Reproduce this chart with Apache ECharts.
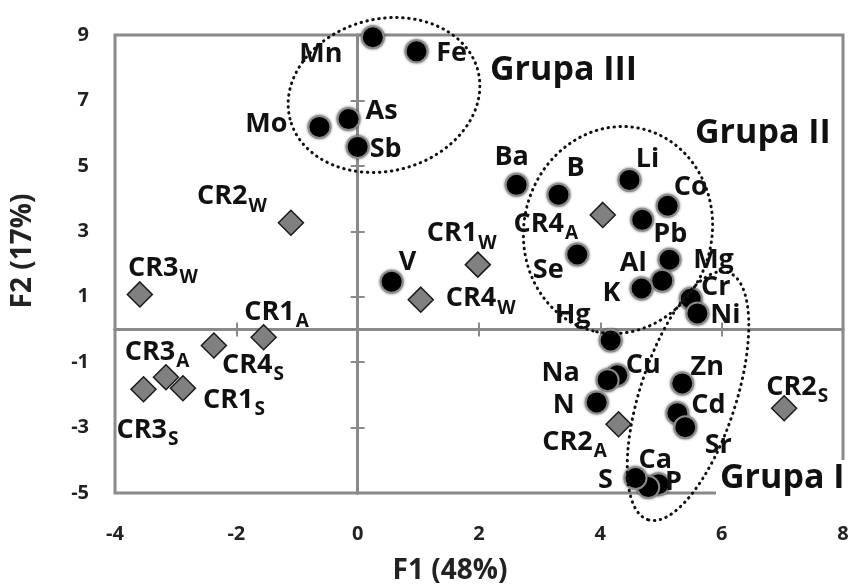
<!DOCTYPE html>
<html>
<head>
<meta charset="utf-8">
<script src="https://cdn.jsdelivr.net/npm/echarts@6/dist/echarts.min.js"></script>
<style>
  html, body { margin: 0; padding: 0; background: #fff; }
  #chart { width: 849px; height: 588px; }
</style>
</head>
<body>
<div id="chart"></div>
<script>
// Element loadings on the first two factors
const elementNames = ['Mn', 'Fe', 'Mo', 'As', 'Sb', 'Ba', 'B', 'Li', 'Co', 'Pb', 'Se', 'Mg', 'Al', 'K', 'Cr', 'Ni', 'Hg', 'V', 'Cu', 'Na', 'N', 'Zn', 'Cd', 'Sr', 'P', 'Ca', 'S'];
const elementF1 = [0.25, 0.97, -0.63, -0.15, 0.0, 2.62, 3.31, 4.48, 5.11, 4.69, 3.62, 5.14, 5.02, 4.68, 5.49, 5.6, 4.17, 0.56, 4.28, 4.12, 3.94, 5.35, 5.27, 5.4, 4.96, 4.79, 4.58];
const elementF2 = [8.93, 8.5, 6.19, 6.43, 5.58, 4.42, 4.12, 4.57, 3.78, 3.35, 2.29, 2.13, 1.49, 1.25, 0.94, 0.49, -0.34, 1.46, -1.4, -1.55, -2.23, -1.65, -2.56, -2.99, -4.73, -4.82, -4.54];

// Sample scores (site + subscript season code)
const sampleBase = ['CR2', 'CR3', 'CR1', 'CR4', 'CR1', 'CR4', 'CR3', 'CR2', 'CR4', 'CR3', 'CR1', 'CR2'];
const sampleSub = ['W', 'W', 'W', 'W', 'A', 'A', 'A', 'A', 'S', 'S', 'S', 'S'];
const sampleF1 = [-1.1, -3.59, 1.98, 1.04, -1.55, 4.04, -3.16, 4.3, -2.37, -3.53, -2.88, 7.03];
const sampleF2 = [3.26, 1.07, 1.98, 0.91, -0.24, 3.5, -1.46, -2.9, -0.49, -1.83, -1.8, -2.41];

// Axis settings
const xMin = -4, xMax = 8, xStep = 2;
const yMin = -5, yMax = 9, yStep = 2;
const xTitle = 'F1 (48%)';
const yTitle = 'F2 (17%)';
const groupTitles = ['Grupa III', 'Grupa II', 'Grupa I'];

// Label placement (label centre relative to marker centre, px)
const elementLabelShift = {
  Mn: [-52, 17], Fe: [35, 2], Mo: [-53, -3], As: [33, -8], Sb: [28, 2],
  Ba: [-5, -28], B: [17, -26], Li: [18, -21], Co: [23, -18], Pb: [28, 14],
  Se: [-29, 16], Mg: [44, 1], Al: [-29, -17], K: [-30, 5], Cr: [25, -11],
  Ni: [28, 2], Hg: [-38, -25], V: [16, -19], Cu: [26, -10], Na: [-47, -7],
  N: [-33, 3], Zn: [25, -16], Cd: [31, -8], Sr: [33, 18], P: [15, -2],
  Ca: [7, -27], S: [-30, 2]
};
// for two-part labels the shift refers to the main text line
const sampleLabelShift = {
  CR2W: [-59, -26], CR3W: [23, -26], CR1W: [-16, -31], CR4W: [60, -1],
  CR1A: [13, -25], CR4A: [-57, 9], CR3A: [-9, -25], CR2A: [-44, 18],
  CR4S: [39, 20], CR3S: [4, 41], CR1S: [51, 12], CR2S: [13, -21]
};

const FONT = '"Open Sans", "Noto Sans", sans-serif';
const GRAY = '#8a8a8a';
const INK = '#111';

// rich-text line metrics for main text + lowered subscript
const MAIN_LH = 27, SUB_LH = 46;
const subDrop = (SUB_LH - MAIN_LH) / 2;

const elementData = elementNames.map((n, i) => ({
  name: n,
  value: [elementF1[i], elementF2[i]],
  label: { offset: elementLabelShift[n] || [0, 0] }
}));
const sampleData = sampleBase.map((b, i) => {
  const key = b + sampleSub[i];
  const s = sampleLabelShift[key] || [0, 0];
  return {
    name: key,
    value: [sampleF1[i], sampleF2[i]],
    base: b,
    sub: sampleSub[i],
    label: { offset: [s[0], s[1] + subDrop] }
  };
});

function valueAxis(min, max, step, extra) {
  return Object.assign({
    type: 'value', min: min, max: max, interval: step,
    splitLine: { show: false }
  }, extra);
}

const zeroLine = { show: true, onZero: true, onZeroAxisIndex: 0, lineStyle: { color: GRAY, width: 3 } };
const tickStyle = { color: GRAY, width: 2 };
const tickFont = { fontSize: 20, fontWeight: 'bold', color: '#222', fontFamily: FONT };
const titleFont = { fontSize: 28, fontWeight: 'bold', color: '#222', fontFamily: FONT };

const chart = echarts.init(document.getElementById('chart'));
chart.setOption({
  animation: false,
  grid: {
    left: 115, right: 6, top: 35, bottom: 95,
    show: true, borderColor: GRAY, borderWidth: 3,
    outerBoundsMode: 'none'
  },
  xAxis: [
    valueAxis(xMin, xMax, xStep, {
      position: 'bottom',
      axisLine: { show: false, onZero: false },
      axisTick: { show: false },
      axisLabel: Object.assign({ margin: 31 }, tickFont),
      name: xTitle, nameLocation: 'middle', nameGap: 64,
      nameTextStyle: Object.assign({ padding: [0, 58, 0, 0] }, titleFont)
    }),
    valueAxis(xMin, xMax, xStep, {
      position: 'bottom', axisLine: zeroLine,
      axisTick: { show: true, inside: false, length: 7, lineStyle: tickStyle },
      axisLabel: { show: false }
    }),
    valueAxis(xMin, xMax, xStep, {
      position: 'bottom', axisLine: zeroLine,
      axisTick: { show: true, inside: true, length: 7, lineStyle: tickStyle },
      axisLabel: { show: false }
    })
  ],
  yAxis: [
    valueAxis(yMin, yMax, yStep, {
      position: 'left',
      axisLine: { show: false, onZero: false },
      axisTick: { show: false },
      axisLabel: Object.assign({ margin: 26 }, tickFont),
      name: yTitle, nameLocation: 'middle', nameGap: 78, nameRotate: 90,
      nameTextStyle: Object.assign({ padding: [0, 0, 0, 26] }, titleFont)
    }),
    valueAxis(yMin, yMax, yStep, {
      position: 'left', axisLine: zeroLine,
      axisTick: { show: true, inside: false, length: 7, lineStyle: tickStyle },
      axisLabel: { show: false }
    }),
    valueAxis(yMin, yMax, yStep, {
      position: 'left', axisLine: zeroLine,
      axisTick: { show: true, inside: true, length: 7, lineStyle: tickStyle },
      axisLabel: { show: false }
    })
  ],
  series: [
    {
      type: 'scatter', name: 'samples', xAxisIndex: 0, yAxisIndex: 0,
      symbol: 'diamond', symbolSize: 25,
      itemStyle: { color: '#808080', borderColor: '#1a1a1a', borderWidth: 1.5, opacity: 1 },
      label: {
        show: true, position: 'inside', color: INK,
        formatter: p => '{m|' + p.data.base + '}{s|' + p.data.sub + '}',
        rich: {
          m: { fontSize: 27, lineHeight: MAIN_LH, fontWeight: 'bold', fontFamily: FONT, color: INK, verticalAlign: 'top' },
          s: { fontSize: 19, lineHeight: SUB_LH, fontWeight: 'bold', fontFamily: FONT, color: INK, verticalAlign: 'middle', padding: [0, 0, 0, 1] }
        }
      },
      emphasis: { disabled: true },
      silent: true,
      z: 3,
      data: sampleData
    },
    {
      type: 'scatter', name: 'elements', xAxisIndex: 0, yAxisIndex: 0,
      symbol: 'circle', symbolSize: 22,
      itemStyle: {
        color: '#000', borderColor: '#8c8c8c', borderWidth: 2, opacity: 1,
        shadowBlur: 3, shadowColor: 'rgba(0,0,0,0.45)'
      },
      label: {
        show: true, position: 'inside', color: INK,
        fontSize: 27, fontWeight: 'bold', fontFamily: FONT,
        formatter: p => p.name
      },
      emphasis: { disabled: true },
      silent: true,
      z: 4,
      data: elementData
    }
  ],
  graphic: [
    // dotted group outlines
    {
      type: 'ellipse', x: 384, y: 95, rotation: 0.25, z: 100, silent: true,
      shape: { cx: 0, cy: 0, rx: 97, ry: 76 },
      style: { fill: 'none', stroke: INK, lineWidth: 3, lineDash: [0.5, 5.5], lineCap: 'round' }
    },
    {
      type: 'ellipse', x: 618, y: 230, rotation: 1.33, z: 100, silent: true,
      shape: { cx: 0, cy: 0, rx: 104, ry: 94 },
      style: { fill: 'none', stroke: INK, lineWidth: 3, lineDash: [0.5, 5.5], lineCap: 'round' }
    },
    {
      type: 'ellipse', x: 688, y: 396, rotation: 1.257, z: 100, silent: true,
      shape: { cx: 0, cy: 0, rx: 130, ry: 48 },
      style: { fill: 'none', stroke: INK, lineWidth: 3, lineDash: [0.5, 5.5], lineCap: 'round' }
    },
    // group captions
    {
      type: 'text', x: 490, y: 70, z: 101, silent: true,
      style: { text: groupTitles[0], font: 'bold 34px ' + FONT, fill: INK, verticalAlign: 'middle', align: 'left' }
    },
    {
      type: 'text', x: 695, y: 133, z: 101, silent: true,
      style: { text: groupTitles[1], font: 'bold 34px ' + FONT, fill: INK, verticalAlign: 'middle', align: 'left' }
    },
    {
      type: 'text', x: 716, y: 478, z: 101, silent: true,
      style: {
        text: groupTitles[2], font: 'bold 34px ' + FONT, fill: INK, verticalAlign: 'middle', align: 'left',
        backgroundColor: '#fff', padding: [2, 4, 0, 4]
      }
    }
  ]
});
</script>
</body>
</html>
